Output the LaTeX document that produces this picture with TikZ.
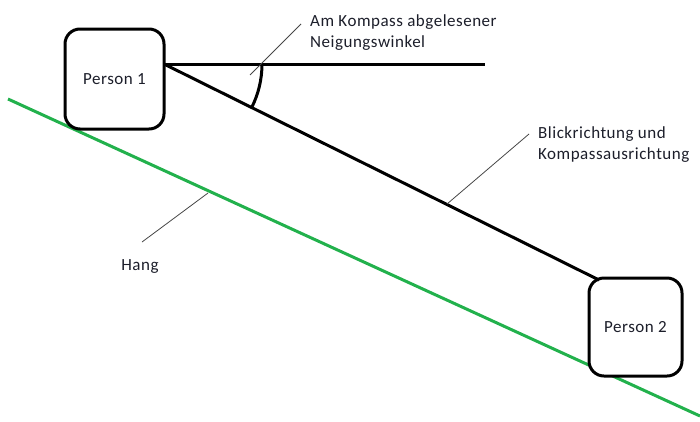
\documentclass[tikz,border=0pt]{standalone}
\usepackage{fontspec}
\setmainfont{Carlito}[LetterSpace=3]
\definecolor{slopegreen}{RGB}{34,177,76}
\definecolor{ink}{RGB}{28,30,42}
\definecolor{leadergray}{RGB}{70,70,70}
\tikzset{
  person/.style={draw=black, line width=3pt, fill=white, rounded corners=15pt,
    inner sep=0pt, font=\fontsize{17}{20}\selectfont, text=ink},
  heavy/.style={draw=black, line width=3pt},
  ground/.style={draw=slopegreen, line width=3pt},
  leader/.style={draw=leadergray, line width=0.8pt},
  lbl/.style={inner sep=0pt, align=left, font=\fontsize{17}{21}\selectfont, text=ink}
}
\begin{document}
\begin{tikzpicture}[x=1pt,y=-1pt]
\useasboundingbox (0,0) rectangle (700,421);

% slope of the hill
\coordinate (g1) at (8,99);
\coordinate (g2) at (700,416);
\draw[ground] (g1) -- (g2);

% the two people
\node[person, minimum width=99pt, minimum height=100pt] (p1) at (114.5,79) {Person 1};
\node[person, minimum width=93pt, minimum height=98pt] (p2) at (635.5,327) {Person 2};

% horizontal reference and line of sight
\coordinate (eye1) at (164,64);
\coordinate (hz) at (485,64);
\coordinate (eye2) at (599,280);
\draw[heavy] (eye1) -- (hz);
\draw[heavy] (eye1) -- (eye2);

% inclination angle
\coordinate (arcstart) at (262,64);
\draw[heavy] (arcstart) arc[start angle=0, end angle=26.5, radius=97];

% labels with their leader lines
\node[lbl, anchor=west] (angtxt) at (310,33) {Am Kompass abgelesener\\Neigungswinkel};
\coordinate (la1) at (250,75);
\coordinate (la2) at (301,24);
\draw[leader] (la1) -- (la2);

\node[lbl, anchor=west] (blicktxt) at (538,145) {Blickrichtung und\\Kompassausrichtung};
\coordinate (lb1) at (447,204);
\coordinate (lb2) at (529,134);
\draw[leader] (lb1) -- (lb2);

\node[lbl] (hangtxt) at (140,266) {Hang};
\coordinate (lh1) at (208,193);
\coordinate (lh2) at (142,242);
\draw[leader] (lh1) -- (lh2);
\end{tikzpicture}
\end{document}
